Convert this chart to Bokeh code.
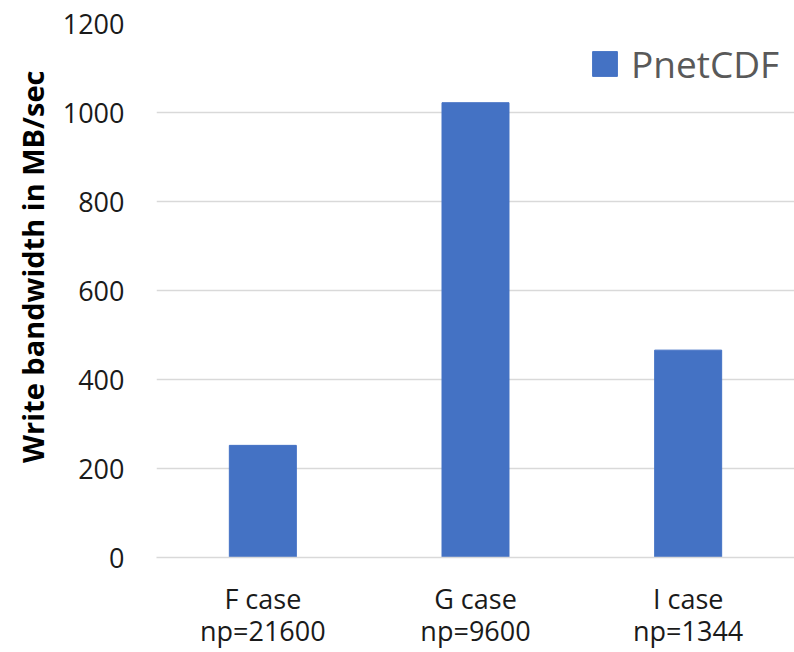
from bokeh.plotting import figure
from bokeh.models import ColumnDataSource, Range1d, Legend, LegendItem, FixedTicker, Title
from bokeh.embed import file_html
from bokeh.resources import INLINE

# Write bandwidth per case (MB/sec)
cases = ["F case\nnp=21600", "G case\nnp=9600", "I case\nnp=1344"]
bandwidth = [252, 1022, 466]
series_name = "PnetCDF"
y_title = "Write bandwidth in MB/sec"
y_ticks = [0, 200, 400, 600, 800, 1000, 1200]

FONT = "Open Sans"
BAR_COLOR = "#4472C4"
GRID_COLOR = "#D9D9D9"

source = ColumnDataSource(data=dict(case=cases, bw=bandwidth))

p = figure(
    x_range=cases,
    y_range=Range1d(0, 1200),
    width=794,
    height=652,
    output_backend="svg",
    toolbar_location=None,
    min_border_left=156,
    min_border_right=0,
    min_border_top=23,
    min_border_bottom=94,
)
p.outline_line_color = None
p.background_fill_color = "white"
p.border_fill_color = "white"

bars = p.vbar(x="case", top="bw", width=0.315, source=source,
              fill_color=BAR_COLOR, line_color=BAR_COLOR, line_width=1)

# y axis
p.yaxis.ticker = FixedTicker(ticks=y_ticks)
p.yaxis.axis_line_color = None
p.yaxis.major_tick_line_color = None
p.yaxis.minor_tick_line_color = None
p.yaxis.major_label_text_font = FONT
p.yaxis.major_label_text_font_size = "27px"
p.yaxis.major_label_text_color = "#1A1A1A"
p.yaxis.major_label_standoff = 26

# vertical y title, anchored towards the top of the frame
p.add_layout(Title(text=y_title, align="right", offset=47, standoff=16,
                   text_font=FONT, text_font_size="29px", text_font_style="bold",
                   text_color="#000000"), "left")

# x axis with two-line category labels
p.xaxis.axis_line_color = GRID_COLOR
p.xaxis.axis_line_width = 1.5
p.xaxis.major_tick_line_color = None
p.xaxis.minor_tick_line_color = None
p.xaxis.major_label_text_font = FONT
p.xaxis.major_label_text_font_size = "27px"
p.xaxis.major_label_text_color = "#1A1A1A"
p.xaxis.major_label_text_line_height = 0.88
p.xaxis.major_label_standoff = 16
p.xaxis.major_label_orientation = "horizontal"

# grid
p.xgrid.grid_line_color = None
p.ygrid.grid_line_color = GRID_COLOR
p.ygrid.grid_line_width = 1.5

legend = Legend(
    items=[LegendItem(label=series_name, renderers=[bars])],
    location=(433, 468),
    orientation="vertical",
    glyph_width=31,
    glyph_height=31,
    label_standoff=11,
    label_text_font=FONT,
    label_text_font_size="37px",
    label_text_color="#595959",
    border_line_color=None,
    background_fill_alpha=0,
    padding=0,
    margin=0,
    spacing=0,
)
p.add_layout(legend, "center")

open("out.html", "w").write(file_html(p, INLINE))
